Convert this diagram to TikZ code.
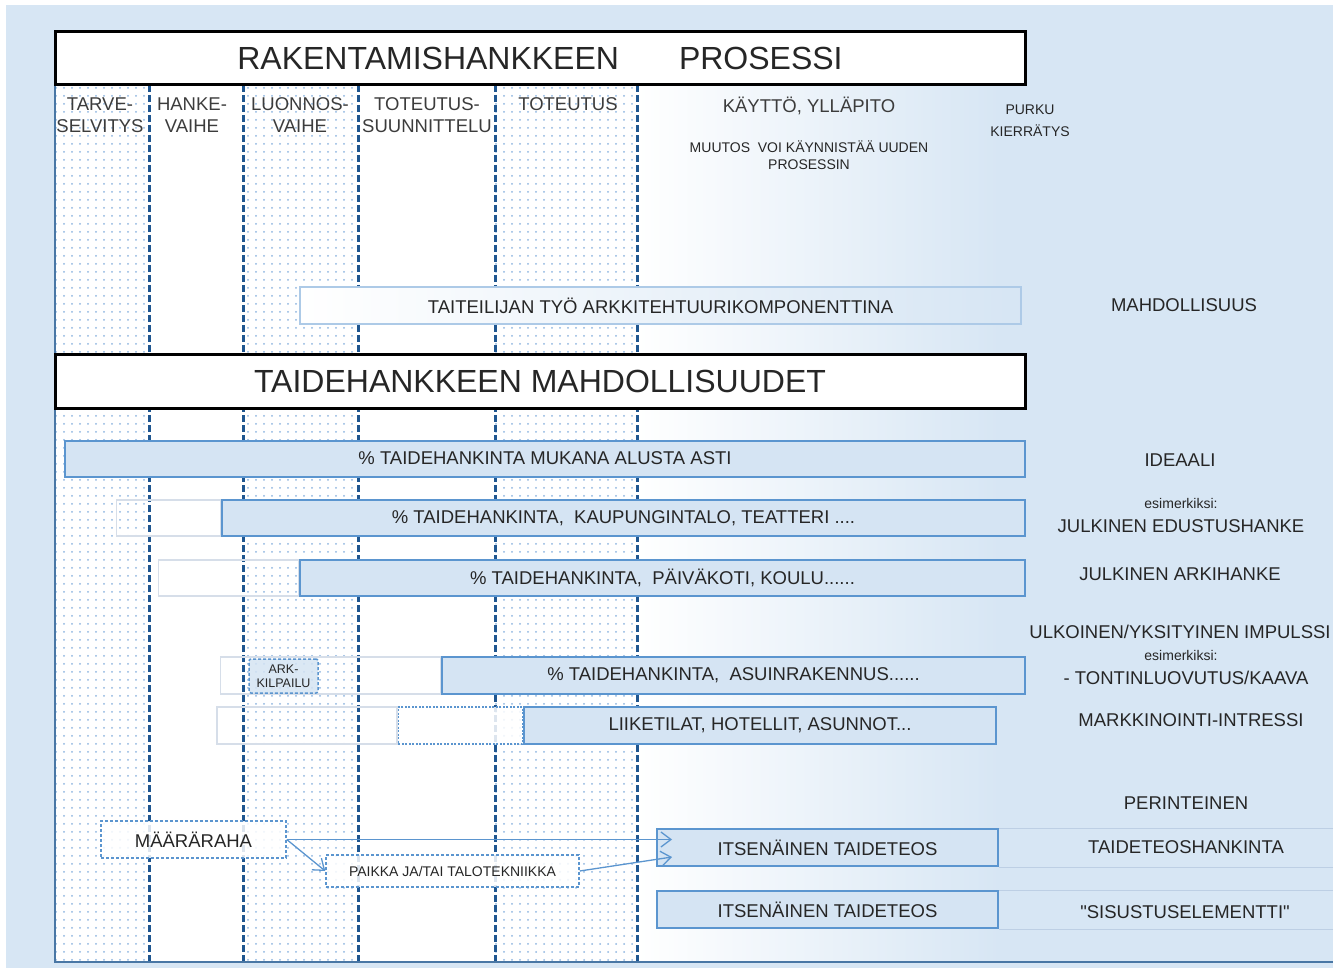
\documentclass[tikz,border=0pt]{standalone}
\usepackage{fontspec}
\setmainfont{Liberation Sans}[Ligatures=TeXOff]
\usetikzlibrary{positioning}
\usetikzlibrary{patterns.meta}
\usetikzlibrary{arrows.meta}
\definecolor{bgblue}{HTML}{D7E6F4}
\definecolor{barfill}{HTML}{D5E4F3}
\definecolor{barline}{HTML}{5B95CF}
\definecolor{dashline}{HTML}{1F5690}
\definecolor{ghostline}{HTML}{D6DEE9}
\definecolor{dotcol}{HTML}{8FB6E0}
\definecolor{txt}{HTML}{262626}
\tikzset{
	every node/.style = {text=txt, inner sep=0pt, font=\fontsize{18.5}{22}\selectfont},
	title/.style = {draw=black, line width=3pt, fill=white, minimum width=970, minimum height=53, font=\fontsize{32}{36}\selectfont},
	bar/.style = {draw=barline, line width=2pt, fill=barfill, minimum height=36},
	ghost/.style = {draw=ghostline, line width=1.2pt, minimum height=36},
	dbox/.style = {draw=barline, line width=1.5pt, dash pattern=on 3pt off 2pt, fill=white, fill opacity=.85, text opacity=1},
	phase/.style = {align=center, text=txt!90},
	small/.style = {align=center, font=\fontsize{14}{17}\selectfont},
	tiny/.style = {align=center, font=\fontsize{12.5}{14}\selectfont},
	colline/.style = {draw=dashline, line width=3pt, dash pattern=on 7pt off 3pt},
	conn/.style = {draw=barline, line width=1.3pt, -{Straight Barb[length=10pt,width=15pt]}},
	rowline/.style = {draw=ghostline!80!barline, line width=1pt}
}
\begin{document}
\begin{tikzpicture}[x=1pt, y=-1pt]
		\useasboundingbox (0,0) rectangle (1339,968);
		% background
		\fill[bgblue] (6,5) rectangle (1333,968);
		\fill[white] (55,85) rectangle (637,962);
		\shade[left color=white, right color=bgblue] (637,85) rectangle (1000,962);
		% phase columns
		\foreach \a/\b in {55/149, 243/358, 495/637}
			\fill[pattern={Dots[distance=8pt, radius=1pt]}, pattern color=dotcol] (\a,85) rectangle (\b,962);
		\foreach \x in {149, 243, 358, 495, 637}
			\draw[colline] (\x,85) -- (\x,962);
		\draw[barline!80!black, line width=2.5pt] (55,84) -- (55,962) -- (1333,962);
		
		% titles
		\node[title] (proc) at (540,58.5) {RAKENTAMISHANKKEEN\hspace{60pt}PROSESSI};
		\node[title] (poss) at (540,381.5) {TAIDEHANKKEEN MAHDOLLISUUDET};
		
		% phases
		\node[phase] (tarve) at (100,115) {TARVE-\\SELVITYS};
		\node[phase] (hanke) at (192,115) {HANKE-\\VAIHE};
		\node[phase] (luonnos) at (300,115) {LUONNOS-\\VAIHE};
		\node[phase] (totsuun) at (427,115) {TOTEUTUS-\\SUUNNITTELU};
		\node[phase] (toteutus) at (568,104) {TOTEUTUS};
		\node[phase] (kaytto) at (809,106) {KÄYTTÖ, YLLÄPITO};
		\node[small] (muutos) at (809,155) {MUUTOS\ \ VOI KÄYNNISTÄÄ UUDEN\\PROSESSIN};
		\node[small, font=\fontsize{14}{22}\selectfont] (purku) at (1030,121) {PURKU\\KIERRÄTYS};
		
		% architecture component
		\node[draw=barline!50, line width=1.2pt, left color=white, right color=bgblue!70!barfill, minimum width=721, minimum height=37] (taiteilija) at (660.5,305.5) {TAITEILIJAN TYÖ ARKKITEHTUURIKOMPONENTTINA};
		\node (mahd) at (1184,305) {MAHDOLLISUUS};
		
		% art procurement bars
		\node[bar, minimum width=960] (b1) at (545,458.5) {\% TAIDEHANKINTA MUKANA ALUSTA ASTI};
		\node[bar, minimum width=803] (b2) at (623.5,518) {\% TAIDEHANKINTA,\ \ KAUPUNGINTALO, TEATTERI ....};
		\node[ghost, minimum width=104, left=0pt of b2] (g2) {};
		\node[bar, minimum width=725] (b3) at (662.5,578) {\% TAIDEHANKINTA,\ \ PÄIVÄKOTI, KOULU......};
		\node[ghost, minimum width=140, left=0pt of b3] (g3) {};
		\node[bar, minimum width=583, minimum height=37] (b4) at (733.5,675.5) {\% TAIDEHANKINTA,\ \ ASUINRAKENNUS......};
		\node[ghost, minimum width=220, minimum height=37, left=0pt of b4] (g4) {};
		\node[dbox, fill=barfill, rounded corners=2pt, minimum width=69, minimum height=34, tiny] (ark) at (283.5,676) {ARK-\\KILPAILU};
		\node[bar, minimum width=472, minimum height=37] (b5) at (760,725.5) {LIIKETILAT, HOTELLIT, ASUNNOT...};
		\node[dbox, dash pattern=on 2pt off 1.5pt, minimum width=124, minimum height=37, left=0pt of b5] (d5) {};
		\node[ghost, minimum width=180, minimum height=37, left=0pt of d5] (g5) {};
		
		% right side labels
		\node (ideaali) at (1180,460) {IDEAALI};
		\node[small] (esim1) at (1181,503) {esimerkiksi:};
		\node (edustus) at (1181,526) {JULKINEN EDUSTUSHANKE};
		\node (arki) at (1180,574) {JULKINEN ARKIHANKE};
		\node (impulssi) at (1180,632) {ULKOINEN/YKSITYINEN IMPULSSI};
		\node[small] (esim2) at (1181,655) {esimerkiksi:};
		\node (tontti) at (1186,678) {- TONTINLUOVUTUS/KAAVA};
		\node (markk) at (1191,720) {MARKKINOINTI-INTRESSI};
		\node (perint) at (1186,803) {PERINTEINEN};
		
		% independent artworks
		\coordinate (edge) at (1333,0);
		\node[bar, minimum width=341, minimum height=37] (teos1) at (827.5,847.5) {ITSENÄINEN TAIDETEOS};
		\node[bar, minimum width=341, minimum height=37] (teos2) at (827.5,909.5) {ITSENÄINEN TAIDETEOS};
		\draw[rowline] (teos1.north east) -- (teos1.north east -| edge);
		\draw[rowline] (teos1.south east) -- (teos1.south east -| edge);
		\draw[rowline] (teos2.north east) -- (teos2.north east -| edge);
		\draw[rowline] (teos2.south east) -- (teos2.south east -| edge);
		\node (hankinta) at (1186,847) {TAIDETEOSHANKINTA};
		\node (sisustus) at (1185,912) {"SISUSTUSELEMENTTI"};
		
		% funding
		\node[dbox, minimum width=185, minimum height=37] (maara) at (193.5,839.5) {MÄÄRÄRAHA};
		\node[dbox, minimum width=253, minimum height=32, small] (paikka) at (452.5,871) {PAIKKA JA/TAI TALOTEKNIIKKA};
		\coordinate (in1) at (672,839.5);
		\coordinate (in2) at (672,857);
		\draw[conn] (maara.east) -- (in1);
		\draw[conn] (maara.east) -- (paikka.west);
		\draw[conn] (paikka.east) -- (in2);
	\end{tikzpicture}
\end{document}
